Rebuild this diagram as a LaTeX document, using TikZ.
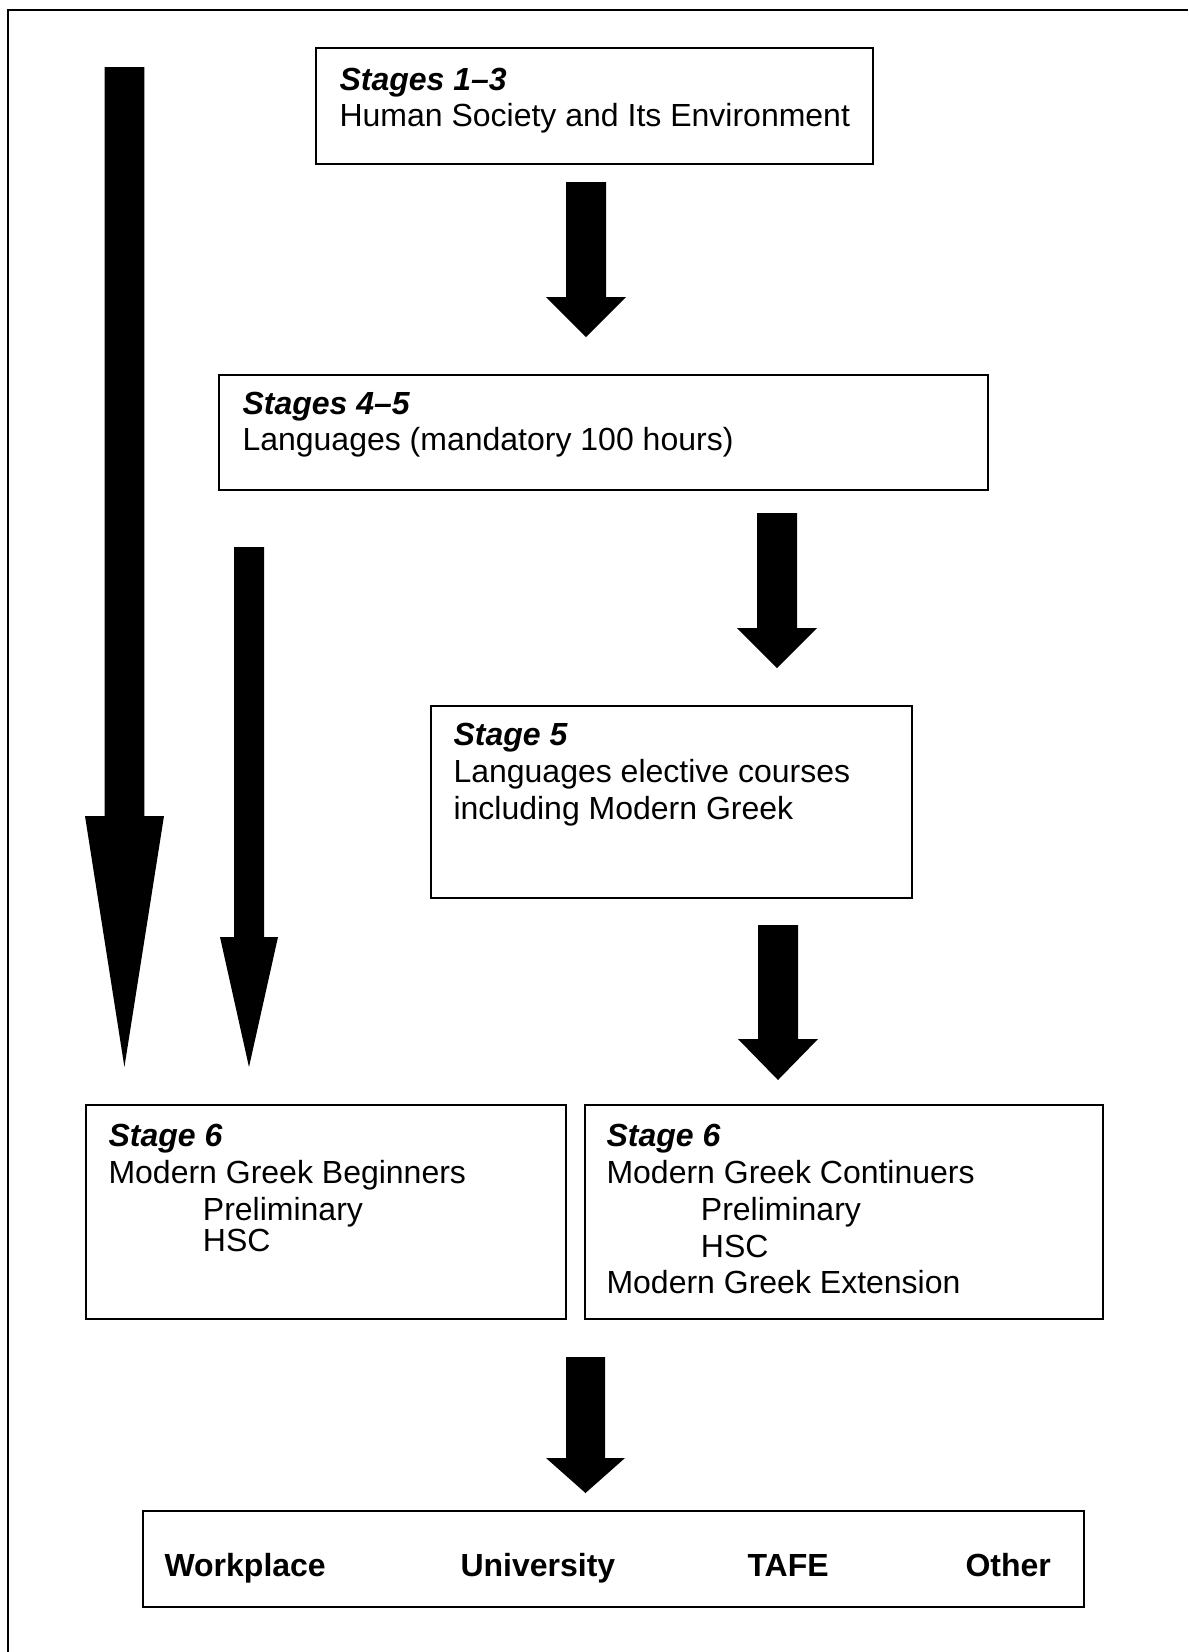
\documentclass[tikz,border=0pt]{standalone}
\usepackage{fontspec}
\setmainfont{Liberation Sans}
\usetikzlibrary{fit}

\begin{document}
\begin{tikzpicture}[x=0.375pt, y=-0.375pt,
    box/.style={draw, line width=0.5pt, inner sep=0pt},
    txt/.style={anchor=north west, align=left, inner sep=0pt,
                font=\fontsize{12}{13.8}\selectfont,
                execute at begin node={\rule{0pt}{10pt}}},
    dest/.style={anchor=base west, inner sep=0pt,
                 font=\fontsize{12}{13.8}\selectfont\bfseries},
    blk/.style={fill=black}]
    \useasboundingbox (0,0) rectangle (1188,1652);

    % Outer frame (only top and left edges on the page)
    \draw[line width=0.6pt] (8,1652) -- (8,10) -- (1188,10);

    % Stage boxes
    \node[box, fit={(316,48) (873,164)}] (s13) {};
    \node[txt] (s13txt) at (339,67.3) {\textbf{\textit{Stages 1–3}}\\Human Society and Its Environment};

    \node[box, fit={(219,375) (988,490)}] (s45) {};
    \node[txt] (s45txt) at (242,391.3) {\textbf{\textit{Stages 4–5}}\\Languages (mandatory 100 hours)};

    \node[box, fit={(431,706) (912,898)}] (s5) {};
    \node[txt] (s5txt) at (453,722.8) {\textbf{\textit{Stage 5}}\\Languages elective courses\\including Modern Greek};

    \node[box, fit={(86,1105) (566,1319)}] (s6beg) {};
    \node[txt] (s6begtxt) at (108,1123.8) {\textbf{\textit{Stage 6}}\\Modern Greek Beginners\\
        \hspace*{35.4pt}Preliminary\\[-2.2pt]\hspace*{35.4pt}HSC};

    \node[box, fit={(585,1105) (1103,1319)}] (s6cont) {};
    \node[txt] (s6conttxt) at (606,1123.8) {\textbf{\textit{Stage 6}}\\Modern Greek Continuers\\
        \hspace*{35.4pt}Preliminary\\\hspace*{35.4pt}HSC\\Modern Greek Extension};

    % Destinations
    \node[box, fit={(143,1511) (1084,1607)}] (out) {};
    \node[dest] (work) at (164,1576) {Workplace};
    \node[dest] (uni) at (460,1576) {University};
    \node[dest] (tafe) at (747,1576) {TAFE};
    \node[dest] (other) at (965,1576) {Other};

    % Block arrows
    % long arrow on the far left
    \fill[blk] (104.5,67) -- (144.3,67) -- (144.3,816) -- (164,816) -- (124.4,1067) -- (85,816) -- (104.5,816) -- cycle;
    % thinner arrow beside it
    \fill[blk] (234,547) -- (264,547) -- (264,937) -- (278,937) -- (249,1067) -- (220,937) -- (234,937) -- cycle;
    % Stages 1-3 to Stages 4-5
    \fill[blk] (566,182) -- (606,182) -- (606,297) -- (626,297) -- (586,337) -- (546,297) -- (566,297) -- cycle;
    % Stages 4-5 to Stage 5
    \fill[blk] (757,513) -- (797,513) -- (797,628) -- (817,628) -- (777,668) -- (737,628) -- (757,628) -- cycle;
    % Stage 5 to Stage 6
    \fill[blk] (758,925) -- (798,925) -- (798,1039) -- (818,1039) -- (778,1080) -- (738,1039) -- (758,1039) -- cycle;
    % Stage 6 to destinations
    \fill[blk] (566,1357) -- (605,1357) -- (605,1458) -- (625,1458) -- (585.5,1493) -- (546,1458) -- (566,1458) -- cycle;
\end{tikzpicture}
\end{document}
